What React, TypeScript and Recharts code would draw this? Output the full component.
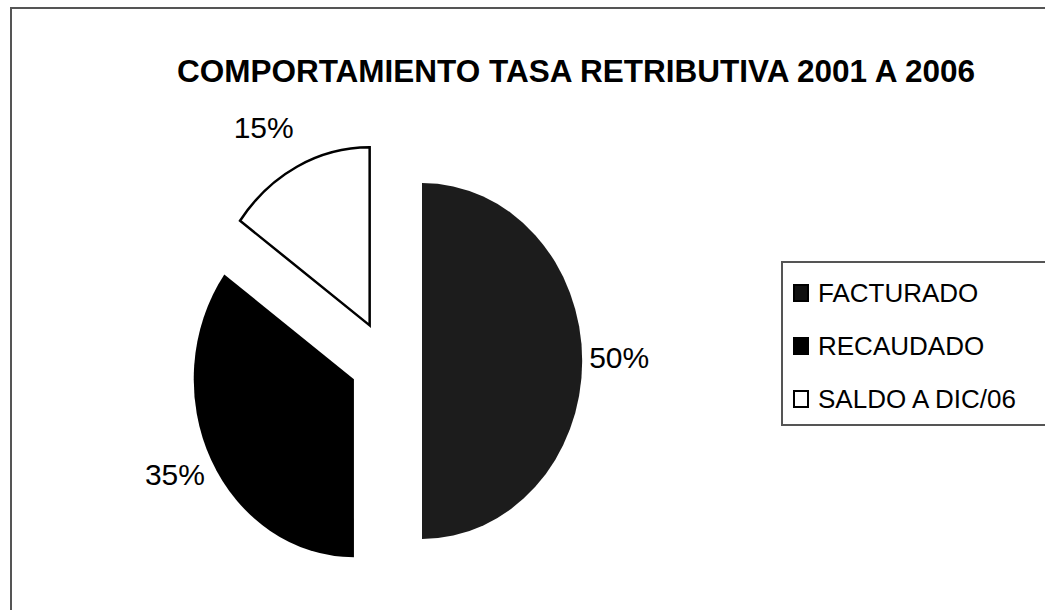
import React from "react";
import { PieChart, Pie, Cell, Legend } from "recharts";

const categories = ["FACTURADO", "RECAUDADO", "SALDO A DIC/06"];
const shares = [50, 35, 15];
const sliceFills = ["#1c1c1c", "#000000", "#ffffff"];
const legendFills = ["#111111", "#000000", "#ffffff"];
const title = "COMPORTAMIENTO TASA RETRIBUTIVA 2001 A 2006";

const data = categories.map((name, i) => ({ name, value: shares[i] }));

const RAD = Math.PI / 180;
const SQUASH = 0.9; // the scanned pie is a bit narrower than it is tall
const EXPLODE = 40;
const FONT = "'Liberation Sans', Arial, sans-serif";

function explodedCenter(cx: number, cy: number, midAngle: number) {
  return [
    cx + Math.cos(midAngle * RAD) * EXPLODE * SQUASH,
    cy - Math.sin(midAngle * RAD) * EXPLODE,
  ];
}

function ExplodedSector(props: any) {
  const { cx, cy, outerRadius, startAngle, endAngle, midAngle, fill, stroke, strokeWidth } = props;
  const [ox, oy] = explodedCenter(cx, cy, midAngle);
  const rx = outerRadius * SQUASH;
  const ry = outerRadius;
  const pt = (a: number) => [ox + rx * Math.cos(a * RAD), oy - ry * Math.sin(a * RAD)];
  const [x1, y1] = pt(startAngle);
  const [x2, y2] = pt(endAngle);
  const large = Math.abs(endAngle - startAngle) > 180 ? 1 : 0;
  const sweep = startAngle > endAngle ? 1 : 0;
  const d = `M${ox},${oy} L${x1},${y1} A${rx},${ry} 0 ${large} ${sweep} ${x2},${y2} Z`;
  return <path d={d} fill={fill} stroke={stroke} strokeWidth={strokeWidth} strokeLinejoin="miter" />;
}

function renderLabel(props: any) {
  const { cx, cy, midAngle, outerRadius, percent } = props;
  const [ox, oy] = explodedCenter(cx, cy, midAngle);
  const c = Math.cos(midAngle * RAD);
  const s = Math.sin(midAngle * RAD);
  const ax = ox + outerRadius * SQUASH * c;
  const ay = oy - outerRadius * s;
  const x = ax + c * 7;
  const y = ay - s * 40 - 4;
  const anchor = c > 0.1 ? "start" : c < -0.1 ? "end" : "middle";
  return (
    <text x={x} y={y} textAnchor={anchor} dominantBaseline="central" fontSize={30} fontFamily={FONT} fill="#000">
      {`${Math.round(percent * 100)}%`}
    </text>
  );
}

function LegendBox() {
  return (
    <div
      style={{
        position: "relative",
        width: 290,
        height: 165,
        border: "2px solid #555",
        boxSizing: "border-box",
        background: "#fff",
        fontFamily: FONT,
        fontSize: 26,
        color: "#000",
      }}
    >
      {categories.map((c, i) => (
        <div key={c} style={{ position: "absolute", left: 10, top: 16 + 53 * i, height: 28, display: "flex", alignItems: "center" }}>
          <span
            style={{
              display: "inline-block",
              width: 16,
              height: 18,
              boxSizing: "border-box",
              background: legendFills[i],
              border: "2px solid #000",
              marginRight: 9,
            }}
          />
          <span style={{ whiteSpace: "nowrap" }}>{c}</span>
        </div>
      ))}
    </div>
  );
}

export default function App() {
  return (
    <div style={{ position: "absolute", left: 0, top: 0, width: 1045, height: 610, overflow: "hidden", background: "#fff" }}>
      <svg width={1045} height={610} style={{ position: "absolute", left: 0, top: 0 }}>
        <rect x={11} y={8} width={1100} height={700} fill="none" stroke="#555" strokeWidth={2} />
        <text
          x={576}
          y={82}
          textAnchor="middle"
          fontFamily={FONT}
          fontWeight="bold"
          fontSize={31.5}
          fill="#000"
        >
          {title}
        </text>
      </svg>
      <div style={{ position: "absolute", left: 0, top: 0 }}>
        <PieChart width={1045} height={610}>
          <Pie
            data={data}
            dataKey="value"
            nameKey="name"
            cx={381}
            cy={356}
            outerRadius={178}
            startAngle={90}
            endAngle={-270}
            label={renderLabel}
            labelLine={false}
            shape={ExplodedSector}
            activeShape={ExplodedSector}
            inactiveShape={ExplodedSector}
            isAnimationActive={false}
          >
            {data.map((d, i) => (
              <Cell
                key={d.name}
                fill={sliceFills[i]}
                stroke={i === 2 ? "#000" : "none"}
                strokeWidth={i === 2 ? 2.5 : 0}
              />
            ))}
          </Pie>
          <Legend
            layout="vertical"
            align="right"
            verticalAlign="top"
            content={() => <LegendBox />}
            wrapperStyle={{ position: "absolute", left: 781, top: 261, width: 290, height: 165 }}
          />
        </PieChart>
      </div>
    </div>
  );
}
